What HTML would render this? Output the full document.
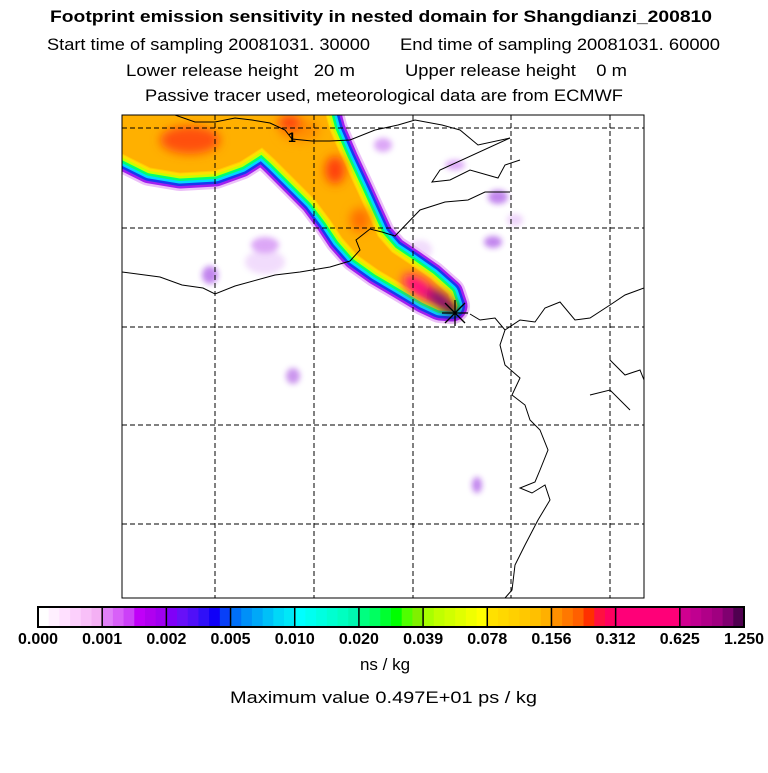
<!DOCTYPE html>
<html><head><meta charset="utf-8"><style>
body{margin:0;background:#fff;width:768px;height:768px;overflow:hidden}
svg{font-family:"Liberation Sans",sans-serif}
</style></head><body>
<svg width="768" height="768" viewBox="0 0 768 768">
<defs>
<clipPath id="pc"><rect x="122" y="115" width="522" height="483"/></clipPath>
<filter id="bl"><feGaussianBlur stdDeviation="3"/></filter>
<filter id="bl2"><feGaussianBlur stdDeviation="5"/></filter>
<path id="pl" d="M110,100 L322,100 L330,130 L343,160 L357,190 L367,212 L378,236 L392,252 L410,264 L430,278 L448,294 L452,306 L440,305 L425,298 L400,283 L378,270 L357,255 L342,238 L330,220 L315,200 L295,180 L275,160 L262,148 L240,162 L215,171 L180,173 L150,168 L122,154 L110,150 Z"/>
</defs>
<text x="50" y="22" textLength="662" lengthAdjust="spacingAndGlyphs" font-size="17" font-weight="bold">Footprint emission sensitivity in nested domain for Shangdianzi_200810</text>
<text x="47" y="50" textLength="323" lengthAdjust="spacingAndGlyphs" font-size="17">Start time of sampling 20081031. 30000</text>
<text x="400" y="50" textLength="320" lengthAdjust="spacingAndGlyphs" font-size="17">End time of sampling 20081031. 60000</text>
<text x="126" y="76" textLength="229" lengthAdjust="spacingAndGlyphs" font-size="17" xml:space="preserve">Lower release height   20 m</text>
<text x="405" y="76" textLength="222" lengthAdjust="spacingAndGlyphs" font-size="17" xml:space="preserve">Upper release height    0 m</text>
<text x="145" y="101" textLength="478" lengthAdjust="spacingAndGlyphs" font-size="17">Passive tracer used, meteorological data are from ECMWF</text>

<g clip-path="url(#pc)">
<g filter="url(#bl)" fill="#c060f0" opacity="0.55">
<ellipse cx="210" cy="275" rx="8" ry="9" fill="#9020e0"/>
<ellipse cx="265" cy="245" rx="14" ry="8"/>
<ellipse cx="293" cy="376" rx="7" ry="8" fill="#a040e0"/>
<ellipse cx="383" cy="145" rx="9" ry="7"/>
<ellipse cx="455" cy="165" rx="10" ry="5"/>
<ellipse cx="498" cy="197" rx="10" ry="7" fill="#9020e0"/>
<ellipse cx="493" cy="242" rx="9" ry="6" fill="#9020e0"/>
<ellipse cx="477" cy="485" rx="5" ry="8" fill="#9020e0"/>
<ellipse cx="265" cy="262" rx="20" ry="12" opacity="0.4"/>
<ellipse cx="420" cy="250" rx="12" ry="10" opacity="0.4"/>
<ellipse cx="515" cy="220" rx="8" ry="6" opacity="0.5"/>
</g>
<g stroke-linejoin="round" fill="none">
<use href="#pl" stroke="#ecc0f8" stroke-width="36"/>
<use href="#pl" stroke="#a020f0" stroke-width="31"/>
<use href="#pl" stroke="#1838f0" stroke-width="26"/>
<use href="#pl" stroke="#00d8ff" stroke-width="21"/>
<use href="#pl" stroke="#00ff70" stroke-width="16"/>
<use href="#pl" stroke="#c8ff00" stroke-width="11"/>
<use href="#pl" stroke="#ffe000" stroke-width="6"/>
<use href="#pl" fill="#ffb000" stroke="#ffc800" stroke-width="1"/>
<g filter="url(#bl2)">
<ellipse cx="190" cy="140" rx="30" ry="14" fill="#ff5010"/>
<ellipse cx="300" cy="130" rx="20" ry="12" fill="#ff9000"/>
<ellipse cx="290" cy="123" rx="12" ry="8" fill="#ff4010"/>
<ellipse cx="335" cy="170" rx="10" ry="14" fill="#ff4010"/>
<ellipse cx="360" cy="220" rx="10" ry="12" fill="#ff7000"/>
<ellipse cx="420" cy="288" rx="20" ry="9" fill="#ff1080" transform="rotate(35 420 288)"/>
<ellipse cx="440" cy="300" rx="16" ry="7" fill="#800080" transform="rotate(35 440 300)"/>
<ellipse cx="452" cy="310" rx="8" ry="5" fill="#400040"/>
</g>
</g>
<g fill="none" stroke="#000" stroke-width="1">
<path d="M175,115 L195,122 L215,122 L235,118 L252,120 L270,123 L285,130 L292,139 L312,141 L330,141 L350,140 L375,130 L398,125 L415,120 L442,125 L460,130 L478,145 L510,138"/>
<path d="M122,272 L160,277 L182,285 L203,288 L215,294 L235,286 L275,275 L300,272 L330,267 L350,261 L360,250 L356,240 L370,229 L382,232 L395,236 L420,210 L445,202 L468,200 L485,192 L510,192"/>
<path d="M510,138 L440,170 L432,182 L450,180 L470,170 L498,178 L505,165 L520,160"/>
<path d="M470,314 L480,320 L495,318 L505,330 L520,320 L535,322 L545,308 L560,302 L575,320 L590,318 L610,305 L625,295 L644,288"/>
<path d="M505,330 L500,345 L505,365 L520,378 L512,395 L525,405 L530,420 L540,430 L548,450 L540,470 L535,482 L520,488 L532,493 L545,485 L550,500 L538,520 L525,545 L515,565 L512,590 L505,598"/>
<path d="M610,360 L625,375 L640,370 L644,380"/>
<path d="M590,395 L610,390 L630,410"/>
</g>
<text x="288" y="142" font-size="14" font-weight="bold">1</text>
<g stroke="#000" stroke-width="1" stroke-dasharray="5,3">
<line x1="215" y1="115" x2="215" y2="598"/><line x1="314" y1="115" x2="314" y2="598"/>
<line x1="413" y1="115" x2="413" y2="598"/><line x1="511" y1="115" x2="511" y2="598"/>
<line x1="610" y1="115" x2="610" y2="598"/>
<line x1="122" y1="128" x2="644" y2="128"/><line x1="122" y1="228" x2="644" y2="228"/>
<line x1="122" y1="327" x2="644" y2="327"/><line x1="122" y1="425" x2="644" y2="425"/>
<line x1="122" y1="524" x2="644" y2="524"/>
</g>
<g stroke="#000" stroke-width="1.3">
<line x1="445" y1="303" x2="465" y2="323"/><line x1="465" y1="303" x2="445" y2="323"/>
<line x1="455" y1="300" x2="455" y2="326"/><line x1="442" y1="313" x2="468" y2="313"/>
</g>
</g>
<rect x="122" y="115" width="522" height="483" fill="none" stroke="#000"/>

<g id="cbar"></g>
<text x="385" y="670" text-anchor="middle" font-size="17">ns / kg</text>
<text x="230" y="703" textLength="307" lengthAdjust="spacingAndGlyphs" font-size="17">Maximum value  0.497E+01 ps / kg</text>
</svg>
<script>
const tickLabels=["0.000","0.001","0.002","0.005","0.010","0.020","0.039","0.078","0.156","0.312","0.625","1.250"];
const segColors=[
["#ffffff","#fff0ff","#ffe0ff","#fcd0fc","#f8c0f8","#f4b0f4"],
["#e080f8","#d860f8","#cc40f8","#c000f8","#b000f0","#a000f0"],
["#8000f8","#6810f8","#5010f8","#3010f8","#1000f8","#0840f8"],
["#0070f8","#0090f8","#00a8f8","#00c0f8","#00d8f8","#00e8f8"],
["#00ffff","#00fff0","#00ffe0","#00ffd0","#00ffc0","#00f8b0"],
["#00ff80","#00ff60","#00ff30","#00ff00","#50ff00","#80f000"],
["#a8ff00","#c0ff00","#d0ff00","#e0ff00","#f0ff00","#ffff00"],
["#ffe000","#ffd800","#ffd000","#ffc800","#ffc000","#ffb000"],
["#ff9000","#ff7800","#ff6000","#ff3000","#ff1040","#ff0060"],
["#ff0078","#ff0078","#ff0078","#ff0078","#ff0078","#ff0078"],
["#d00090","#c00090","#b00088","#a00080","#800070","#500050"]];
const ns="http://www.w3.org/2000/svg";
const g=document.getElementById('cbar');
const x0=38,x1=744,y0=607,h=20;
const sx=i=>x0+(x1-x0)*i/segColors.length;
segColors.forEach((cols,i)=>{
  const w=(sx(i+1)-sx(i))/cols.length;
  cols.forEach((c,j)=>{
    const r=document.createElementNS(ns,'rect');
    
    
    r.setAttribute('x',sx(i)+j*w);r.setAttribute('y',y0);r.setAttribute('width',w+0.5);r.setAttribute('height',h);r.setAttribute('fill',c);
    g.appendChild(r);
  });
  const s=document.createElementNS(ns,'line');
  
  
  s.setAttribute('x1',sx(i));s.setAttribute('x2',sx(i));s.setAttribute('y1',y0);s.setAttribute('y2',y0+h);s.setAttribute('stroke','#000');s.setAttribute('stroke-width','1.5');
  g.appendChild(s);
});
const fr=document.createElementNS(ns,'rect');


fr.setAttribute('x',x0);fr.setAttribute('y',y0);fr.setAttribute('width',x1-x0);fr.setAttribute('height',h);fr.setAttribute('fill','none');fr.setAttribute('stroke','#000');fr.setAttribute('stroke-width','2');
g.appendChild(fr);
tickLabels.forEach((t,i)=>{
  const tx=document.createElementNS(ns,'text');
  
  
  tx.setAttribute('x',sx(i));tx.setAttribute('y',644);tx.setAttribute('text-anchor','middle');tx.setAttribute('font-size','16');tx.setAttribute('font-weight','bold');
  tx.textContent=t;g.appendChild(tx);
});
</script>
</body></html>
